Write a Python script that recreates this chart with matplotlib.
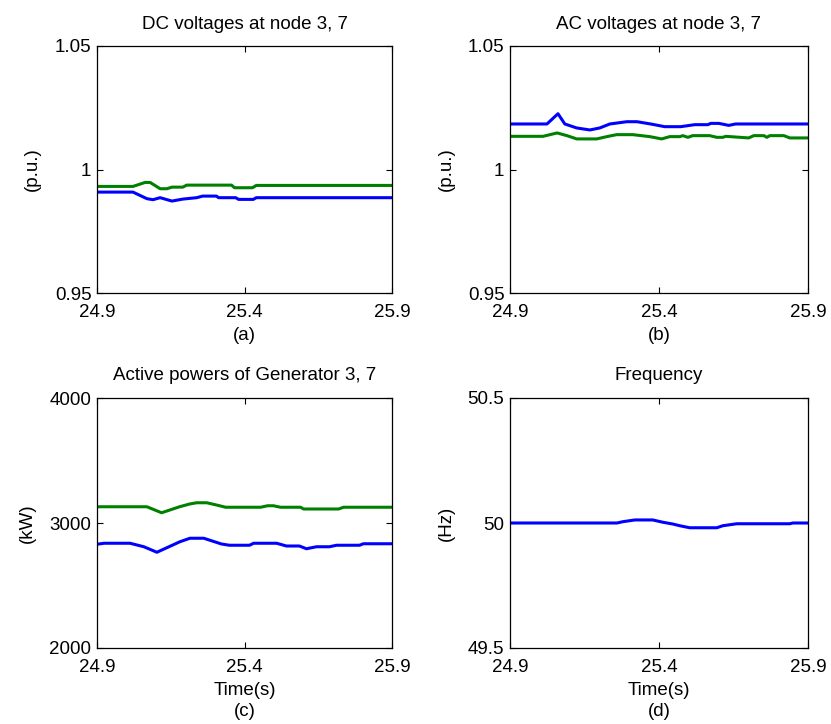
import matplotlib
matplotlib.use("Agg")
import matplotlib.pyplot as plt
import numpy as np

plt.rcParams['font.family'] = ['Liberation Sans', 'DejaVu Sans']
plt.rcParams['font.size'] = 13.5

# ---- Panel (a): DC voltages ----
a_blue_t = [24.9, 25.022, 25.069, 25.090, 25.114, 25.154, 25.191, 25.238, 25.258, 25.305, 25.312, 25.370, 25.380, 25.430, 25.440, 25.900]
a_blue_v = [0.99085, 0.99085, 0.98819, 0.98778, 0.98859, 0.98722, 0.98802, 0.98859, 0.98923, 0.98923, 0.98859, 0.98859, 0.98790, 0.98790, 0.98859, 0.98859]
a_green_t = [24.9, 25.022, 25.063, 25.080, 25.114, 25.137, 25.154, 25.191, 25.204, 25.356, 25.366, 25.427, 25.440, 25.900]
a_green_v = [0.99315, 0.99315, 0.99476, 0.99476, 0.99222, 0.99222, 0.99286, 0.99286, 0.99367, 0.99367, 0.99262, 0.99262, 0.99355, 0.99355]

# ---- Panel (b): AC voltages ----
b_blue_t = [24.9, 25.024, 25.061, 25.084, 25.124, 25.168, 25.201, 25.235, 25.292, 25.326, 25.372, 25.419, 25.473, 25.520, 25.564, 25.574, 25.601, 25.634, 25.657, 25.900]
b_blue_v = [1.01843, 1.01843, 1.02258, 1.01843, 1.01681, 1.01601, 1.01681, 1.01843, 1.01935, 1.01935, 1.01843, 1.01734, 1.01734, 1.01815, 1.01815, 1.01867, 1.01867, 1.01786, 1.01843, 1.01843]
b_green_t = [24.9, 25.011, 25.058, 25.091, 25.124, 25.191, 25.225, 25.258, 25.312, 25.369, 25.409, 25.436, 25.470, 25.480, 25.497, 25.513, 25.570, 25.594, 25.614, 25.624, 25.701, 25.718, 25.752, 25.762, 25.772, 25.819, 25.839, 25.900]
b_green_v = [1.01343, 1.01343, 1.01480, 1.01371, 1.01238, 1.01238, 1.01331, 1.01411, 1.01411, 1.01331, 1.01238, 1.01331, 1.01331, 1.01371, 1.01302, 1.01371, 1.01371, 1.01302, 1.01302, 1.01343, 1.01278, 1.01371, 1.01371, 1.01302, 1.01371, 1.01371, 1.01278, 1.01278]

# ---- Panel (c): Active powers ----
c_green_t = [24.9, 25.069, 25.119, 25.180, 25.214, 25.238, 25.272, 25.305, 25.336, 25.455, 25.478, 25.498, 25.522, 25.590, 25.600, 25.719, 25.736, 25.900]
c_green_v = [3130, 3130, 3082, 3130, 3152, 3162, 3162, 3144, 3126, 3126, 3138, 3138, 3126, 3126, 3112, 3112, 3126, 3126]
c_blue_t = [24.9, 24.924, 25.012, 25.059, 25.103, 25.144, 25.181, 25.215, 25.262, 25.288, 25.322, 25.349, 25.417, 25.431, 25.509, 25.542, 25.586, 25.610, 25.644, 25.688, 25.712, 25.790, 25.803, 25.900]
c_blue_v = [2830, 2838, 2838, 2810, 2766, 2810, 2850, 2878, 2878, 2858, 2832, 2822, 2822, 2838, 2838, 2816, 2816, 2794, 2810, 2810, 2822, 2822, 2834, 2834]

# ---- Panel (d): Frequency ----
d_t = [24.9, 25.259, 25.279, 25.319, 25.379, 25.413, 25.446, 25.470, 25.503, 25.594, 25.614, 25.661, 25.839, 25.849, 25.900]
d_v = [50.000, 50.000, 50.0053, 50.0122, 50.0122, 50.003, 49.996, 49.989, 49.981, 49.981, 49.989, 49.997, 49.997, 50.000, 50.000]

x_ticks = [24.9, 25.4, 25.9]
x_ticklabels = ['24.9', '25.4', '25.9']

BLUE = '#0000ff'
GREEN = '#008000'

FW, FH = 831, 724
fig = plt.figure(figsize=(FW / 100, FH / 100), dpi=100)

# axes boxes in pixels: left, top, right, bottom
boxes = {
    'a': (97, 46, 392, 293),
    'b': (510, 46, 808, 293),
    'c': (97, 398, 392, 648),
    'd': (510, 398, 808, 648),
}

def make_ax(key):
    l, t, r, b = boxes[key]
    return fig.add_axes([l / FW, 1 - b / FH, (r - l) / FW, (b - t) / FH]), (r - l), (b - t)

def style(ax, w, h, yticks, ylabels, ylim, title, ylabel, ylab_dx, xlabel, xlab_dy):
    ax.set_xlim(24.9, 25.9)
    ax.set_ylim(*ylim)
    ax.set_xticks(x_ticks)
    ax.set_xticklabels(x_ticklabels)
    ax.set_yticks(yticks)
    ax.set_yticklabels(ylabels)
    ax.tick_params(direction='in', top=True, right=True, length=4, width=0.8,
                   labelsize=13.5, pad=4)
    ax.tick_params(axis='x', pad=8)
    for s in ax.spines.values():
        s.set_linewidth(0.9)
    ax.set_title(title, fontsize=13.5, y=1 + 22 / h, va='center', pad=0)
    ax.set_ylabel(ylabel, fontsize=13.5, va='center')
    ax.yaxis.set_label_coords(-ylab_dx / w, 0.5)
    ax.set_xlabel(xlabel, fontsize=13.5, va='center', linespacing=1.3)
    ax.xaxis.set_label_coords(0.5, -xlab_dy / h)

ax, w, h = make_ax('a')
ax.plot(a_green_t, a_green_v, color=GREEN, lw=2.2)
ax.plot(a_blue_t, a_blue_v, color=BLUE, lw=2.2)
style(ax, w, h, [0.95, 1.0, 1.05], ['0.95', '1', '1.05'], (0.95, 1.05),
      'DC voltages at node 3, 7', '(p.u.)', 65, '(a)', 42)

ax, w, h = make_ax('b')
ax.plot(b_green_t, b_green_v, color=GREEN, lw=2.2)
ax.plot(b_blue_t, b_blue_v, color=BLUE, lw=2.2)
style(ax, w, h, [0.95, 1.0, 1.05], ['0.95', '1', '1.05'], (0.95, 1.05),
      'AC voltages at node 3, 7', '(p.u.)', 64, '(b)', 42)

ax, w, h = make_ax('c')
ax.plot(c_green_t, c_green_v, color=GREEN, lw=2.2)
ax.plot(c_blue_t, c_blue_v, color=BLUE, lw=2.2)
style(ax, w, h, [2000, 3000, 4000], ['2000', '3000', '4000'], (2000, 4000),
      'Active powers of Generator 3, 7', '(kW)', 70, 'Time(s)\n(c)', 53)

ax, w, h = make_ax('d')
ax.plot(d_t, d_v, color=BLUE, lw=2.2)
style(ax, w, h, [49.5, 50, 50.5], ['49.5', '50', '50.5'], (49.5, 50.5),
      'Frequency', '(Hz)', 64, 'Time(s)\n(d)', 53)

fig.savefig('out.png', dpi=100)
